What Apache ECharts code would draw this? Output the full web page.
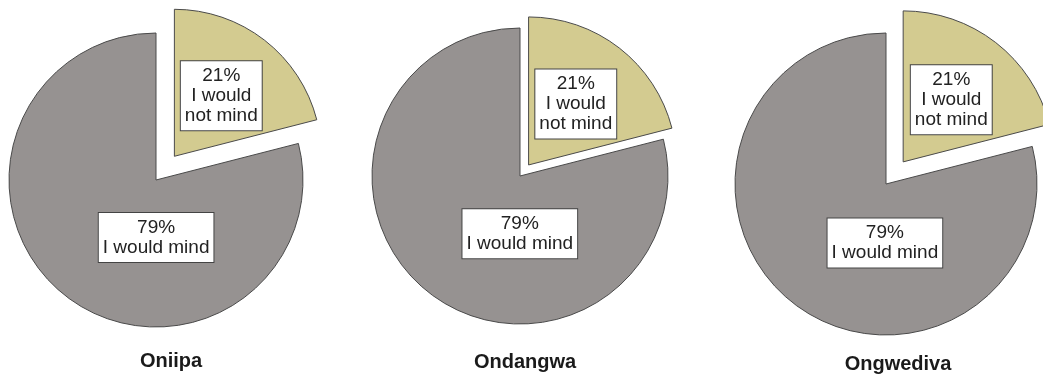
<!DOCTYPE html>
<html>
<head>
<meta charset="utf-8">
<script src="https://cdn.jsdelivr.net/npm/echarts@6/dist/echarts.min.js"></script>
<style>
  html, body { margin: 0; padding: 0; background: #ffffff; }
  #chart { width: 1043px; height: 377px; }
</style>
</head>
<body>
<div id="chart"></div>
<script>
// Survey answers per town
const towns = ['Oniipa', 'Ondangwa', 'Ongwediva'];
const answerLabels = ['I would\nnot mind', 'I would mind'];
const notMindPct = [21, 21, 21];
const mindPct = [79, 79, 79];

// Layout of each pie: centre, radius, and how far the small slice is pulled out
const pieCenters = [[156, 180], [520, 176], [886, 184]];
const pieRadii = [147, 148, 151];
const pullOut = [30, 14, 28];
const titlePos = [[166, 346], [520, 347], [893, 349]];

const FONT = 'Arial, "Liberation Sans", sans-serif';
const sliceColors = ['#d3cb90', '#969291'];

const labelBox = {
  position: 'inside',
  color: '#222222',
  fontFamily: FONT,
  fontSize: 19,
  lineHeight: 20,
  backgroundColor: '#ffffff',
  borderColor: '#444444',
  borderWidth: 1,
  padding: [5, 4, 4, 4],
  align: 'center',
  verticalAlign: 'middle'
};

const series = towns.map((town, i) => ({
  type: 'pie',
  name: town,
  center: pieCenters[i],
  radius: pieRadii[i],
  startAngle: 90,
  clockwise: true,
  avoidLabelOverlap: false,
  selectedMode: 'single',
  selectedOffset: pullOut[i],
  animation: false,
  silent: true,
  labelLine: { show: false },
  itemStyle: { borderColor: '#4a4a4a', borderWidth: 1 },
  emphasis: { disabled: true },
  data: [
    {
      name: answerLabels[0],
      value: notMindPct[i],
      selected: true,
      itemStyle: { color: sliceColors[0] },
      label: Object.assign({}, labelBox, {
        offset: [6, -9],
        formatter: p => p.value + '%\n' + p.name
      })
    },
    {
      name: answerLabels[1],
      value: mindPct[i],
      itemStyle: { color: sliceColors[1] },
      label: Object.assign({}, labelBox, {
        offset: [47, -3],
        formatter: p => p.value + '%\n' + p.name
      })
    }
  ]
}));

const titles = towns.map((town, i) => ({
  text: town,
  left: titlePos[i][0],
  top: titlePos[i][1],
  textAlign: 'center',
  textStyle: { fontFamily: FONT, fontSize: 20, fontWeight: 'bold', color: '#1a1a1a' }
}));

const chart = echarts.init(document.getElementById('chart'), null, { renderer: 'canvas' });
chart.setOption({
  backgroundColor: '#ffffff',
  animation: false,
  title: titles,
  series: series
});
</script>
</body>
</html>
